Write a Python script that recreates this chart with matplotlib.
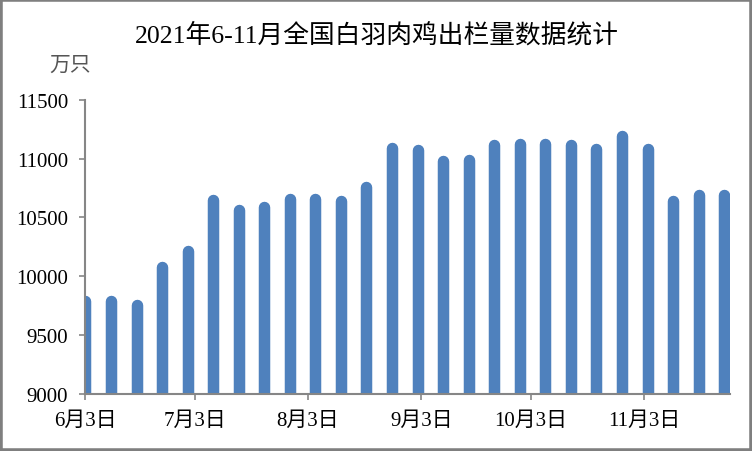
"""Weekly white-feather broiler slaughter volume, Jun-Nov 2021."""

import datetime as dt

import matplotlib
matplotlib.use("Agg")
import matplotlib.dates as mdates
import matplotlib.pyplot as plt
from matplotlib.patches import Rectangle

# weekly data (万只)
dates = ["2021-06-03", "2021-06-10", "2021-06-17", "2021-06-24", "2021-07-01",
         "2021-07-08", "2021-07-15", "2021-07-22", "2021-07-29", "2021-08-05",
         "2021-08-12", "2021-08-19", "2021-08-26", "2021-09-02", "2021-09-09",
         "2021-09-16", "2021-09-23", "2021-09-30", "2021-10-07", "2021-10-14",
         "2021-10-21", "2021-10-28", "2021-11-04", "2021-11-11", "2021-11-18",
         "2021-11-25"]
volume = [9840, 9840, 9805, 10130, 10265, 10700, 10615, 10640, 10705, 10705,
          10690, 10805, 11140, 11120, 11025, 11040, 11165, 11175, 11175, 11165,
          11130, 11240, 11130, 10690, 10740, 10740]

tick_dates = ["2021-06-03", "2021-07-03", "2021-08-03", "2021-09-03",
              "2021-10-03", "2021-11-03"]
tick_labels = ["6月3日", "7月3日", "8月3日", "9月3日", "10月3日", "11月3日"]
y_ticks = [9000, 9500, 10000, 10500, 11000, 11500]

TITLE = "2021年6-11月全国白羽肉鸡出栏量数据统计"
UNIT = "万只"

FONTS = ["Liberation Serif", "Noto Sans CJK SC"]
BLUE = "#4f81bd"
GREY = "#868686"

W, H, DPI = 752, 452, 100
fig = plt.figure(figsize=(W / DPI, H / DPI), dpi=DPI)
ax = fig.add_axes([85.4 / W, 1 - 395 / H, (730 - 85.4) / W, (395 - 100.7) / H])

x = mdates.date2num([dt.date.fromisoformat(d) for d in dates])
x0 = mdates.date2num(dt.date(2021, 6, 3))

# bars with rounded tops: thick vertical lines with round caps
bar_px = 11.5
lw = bar_px * 72 / DPI
ax.set_ylim(9000, 11500)
px_per_unit = (395 - 100.7) / (11500 - 9000)
cap = bar_px / 2 / px_per_unit
ax.vlines(x, 8800, [v - cap for v in volume], colors=BLUE, linewidth=lw,
          capstyle="round", zorder=2)

ax.set_xlim(x0, x0 + 176.6)
ax.set_xticks(mdates.date2num([dt.date.fromisoformat(d) for d in tick_dates]))
ax.set_xticklabels(tick_labels, family=FONTS, fontsize=15)
ax.set_yticks(y_ticks)
ax.set_yticklabels([str(v) for v in y_ticks], family=FONTS, fontsize=15)

for s in ("top", "right"):
    ax.spines[s].set_visible(False)
for s in ("left", "bottom"):
    ax.spines[s].set_color(GREY)
    ax.spines[s].set_linewidth(1.5)
ax.tick_params(axis="y", length=4.5, width=1.2, color=GREY, pad=8)
ax.tick_params(axis="x", length=4.5, width=1.2, color=GREY, pad=8)

fig.text(377 / W, 1 - 35 / H, TITLE, family=FONTS, fontsize=18.5,
         ha="center", va="center")
fig.text(70 / W, 1 - 66 / H, UNIT, family=FONTS, fontsize=15, color="#555555",
         ha="center", va="center")

# grey frame round the picture
fig.patches.append(Rectangle((0, 0), 1, 1, transform=fig.transFigure,
                             fill=False, edgecolor="#7f7f7f", linewidth=4))

fig.savefig("out.png", dpi=DPI)
